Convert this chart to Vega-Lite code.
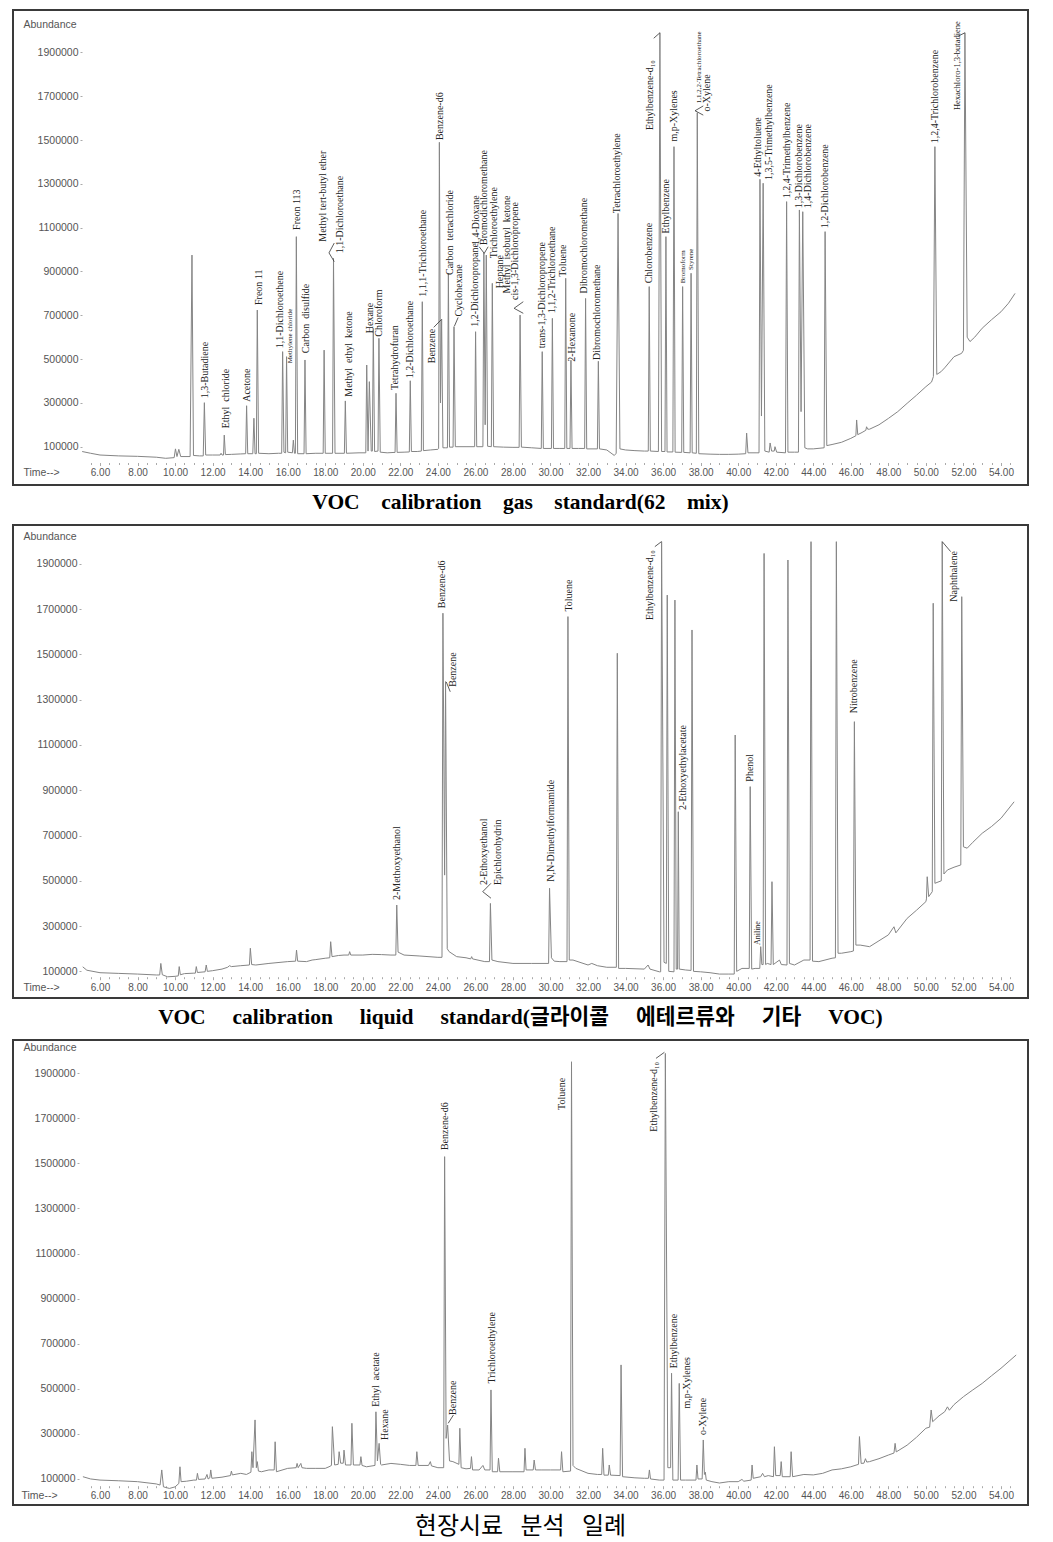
{
"$schema": "https://vega.github.io/schema/vega-lite/v6.json",
"background": "white",
"padding": {"left": 12, "top": 9, "right": 0, "bottom": 0},
"spacing": 9,
"config": {
  "view": {"stroke": "#3a3a3a", "strokeWidth": 2},
  "axis": {"grid": false, "domain": false, "labelFont": "Liberation Sans", "labelFontSize": 10.5, "labelColor": "#555", "tickColor": "#aaa", "titleFont": "Liberation Sans", "titleFontSize": 10.5, "titleColor": "#555", "titleFontWeight": "normal", "labelOverlap": false, "labelFlush": false, "labelBound": false}
},
"datasets": {
"g": [{"t":5.05,"a":78000},{"t":5.5,"a":70000},{"t":6,"a":62000},{"t":7,"a":58000},{"t":8,"a":56000},{"t":9,"a":52000},{"t":9.5,"a":47000},{"t":9.95,"a":50000},{"t":10.02,"a":90000},{"t":10.1,"a":55000},{"t":10.2,"a":88000},{"t":10.3,"a":55000},{"t":10.8,"a":55000},{"t":10.9,"a":975000},{"t":10.98,"a":60000},{"t":11.3,"a":58000},{"t":11.5,"a":58000},{"t":11.56,"a":301000},{"t":11.63,"a":62000},{"t":12.0,"a":62000},{"t":12.4,"a":62000},{"t":12.45,"a":70000},{"t":12.5,"a":62000},{"t":12.58,"a":62000},{"t":12.62,"a":153000},{"t":12.68,"a":64000},{"t":13.0,"a":65000},{"t":13.5,"a":67000},{"t":13.76,"a":68000},{"t":13.81,"a":287000},{"t":13.87,"a":68000},{"t":14.14,"a":68000},{"t":14.2,"a":230000},{"t":14.26,"a":68000},{"t":14.33,"a":68000},{"t":14.38,"a":724000},{"t":14.45,"a":70000},{"t":15.0,"a":68000},{"t":15.5,"a":70000},{"t":15.68,"a":70000},{"t":15.73,"a":534000},{"t":15.8,"a":75000},{"t":15.89,"a":72000},{"t":15.94,"a":511000},{"t":16.0,"a":75000},{"t":16.25,"a":72000},{"t":16.3,"a":130000},{"t":16.36,"a":70000},{"t":16.41,"a":70000},{"t":16.46,"a":1059000},{"t":16.53,"a":68000},{"t":16.87,"a":68000},{"t":16.92,"a":496000},{"t":16.98,"a":68000},{"t":17.5,"a":70000},{"t":17.89,"a":70000},{"t":17.94,"a":541000},{"t":18.0,"a":70000},{"t":18.39,"a":70000},{"t":18.44,"a":960000},{"t":18.52,"a":70000},{"t":19.02,"a":70000},{"t":19.07,"a":309000},{"t":19.13,"a":70000},{"t":19.8,"a":72000},{"t":20.16,"a":72000},{"t":20.21,"a":473000},{"t":20.28,"a":80000},{"t":20.35,"a":397000},{"t":20.45,"a":80000},{"t":20.51,"a":80000},{"t":20.56,"a":640000},{"t":20.63,"a":78000},{"t":20.81,"a":80000},{"t":20.86,"a":595000},{"t":20.93,"a":75000},{"t":21.3,"a":72000},{"t":21.72,"a":74000},{"t":21.77,"a":344000},{"t":21.83,"a":74000},{"t":22.2,"a":75000},{"t":22.48,"a":76000},{"t":22.53,"a":401000},{"t":22.59,"a":78000},{"t":22.9,"a":78000},{"t":23.12,"a":80000},{"t":23.17,"a":762000},{"t":23.23,"a":82000},{"t":23.6,"a":85000},{"t":24.0,"a":88000},{"t":24.04,"a":92000},{"t":24.08,"a":1490000},{"t":24.14,"a":300000},{"t":24.2,"a":683000},{"t":24.27,"a":95000},{"t":24.4,"a":95000},{"t":24.51,"a":95000},{"t":24.56,"a":892000},{"t":24.62,"a":98000},{"t":24.81,"a":98000},{"t":24.86,"a":648000},{"t":24.93,"a":100000},{"t":25.5,"a":100000},{"t":25.96,"a":100000},{"t":26.01,"a":625000},{"t":26.07,"a":100000},{"t":26.4,"a":100000},{"t":26.45,"a":985000},{"t":26.52,"a":200000},{"t":26.58,"a":975000},{"t":26.65,"a":102000},{"t":26.85,"a":100000},{"t":26.9,"a":846000},{"t":26.97,"a":100000},{"t":27.5,"a":98000},{"t":28.0,"a":97000},{"t":28.33,"a":97000},{"t":28.38,"a":701000},{"t":28.45,"a":98000},{"t":29.0,"a":95000},{"t":29.51,"a":92000},{"t":29.56,"a":534000},{"t":29.62,"a":92000},{"t":30.05,"a":92000},{"t":30.1,"a":686000},{"t":30.16,"a":92000},{"t":30.5,"a":92000},{"t":30.76,"a":92000},{"t":30.81,"a":869000},{"t":30.87,"a":92000},{"t":31.04,"a":92000},{"t":31.09,"a":495000},{"t":31.15,"a":92000},{"t":31.5,"a":92000},{"t":31.82,"a":92000},{"t":31.87,"a":777000},{"t":31.93,"a":90000},{"t":32.5,"a":90000},{"t":32.55,"a":490000},{"t":32.61,"a":90000},{"t":33.0,"a":85000},{"t":33.4,"a":60000},{"t":33.5,"a":70000},{"t":33.6,"a":1165000},{"t":33.7,"a":90000},{"t":34.0,"a":85000},{"t":34.5,"a":82000},{"t":35.0,"a":80000},{"t":35.21,"a":80000},{"t":35.26,"a":831000},{"t":35.32,"a":80000},{"t":35.75,"a":78000},{"t":35.83,"a":1990000},{"t":35.92,"a":78000},{"t":36.1,"a":78000},{"t":36.15,"a":1059000},{"t":36.21,"a":76000},{"t":36.52,"a":76000},{"t":36.58,"a":1470000},{"t":36.64,"a":75000},{"t":36.99,"a":74000},{"t":37.04,"a":831000},{"t":37.1,"a":74000},{"t":37.44,"a":72000},{"t":37.49,"a":892000},{"t":37.55,"a":72000},{"t":37.77,"a":70000},{"t":37.82,"a":1625000},{"t":37.9,"a":68000},{"t":38.5,"a":66000},{"t":39.0,"a":65000},{"t":39.5,"a":65000},{"t":40.0,"a":66000},{"t":40.4,"a":68000},{"t":40.45,"a":162000},{"t":40.52,"a":72000},{"t":41.0,"a":72000},{"t":41.11,"a":72000},{"t":41.16,"a":1321000},{"t":41.24,"a":240000},{"t":41.33,"a":1303000},{"t":41.42,"a":80000},{"t":41.65,"a":75000},{"t":41.7,"a":117000},{"t":41.78,"a":80000},{"t":41.92,"a":80000},{"t":41.96,"a":100000},{"t":42.05,"a":75000},{"t":42.52,"a":72000},{"t":42.58,"a":1219000},{"t":42.65,"a":75000},{"t":43.0,"a":75000},{"t":43.21,"a":75000},{"t":43.26,"a":1181000},{"t":43.35,"a":260000},{"t":43.44,"a":1173000},{"t":43.55,"a":95000},{"t":43.7,"a":90000},{"t":44.0,"a":90000},{"t":44.58,"a":95000},{"t":44.63,"a":1082000},{"t":44.72,"a":105000},{"t":45.0,"a":110000},{"t":45.5,"a":120000},{"t":46.0,"a":138000},{"t":46.27,"a":150000},{"t":46.31,"a":222000},{"t":46.37,"a":155000},{"t":46.6,"a":165000},{"t":46.8,"a":175000},{"t":46.84,"a":191000},{"t":46.9,"a":180000},{"t":47.0,"a":180000},{"t":47.5,"a":200000},{"t":48.0,"a":229000},{"t":48.5,"a":260000},{"t":49.0,"a":298000},{"t":49.5,"a":335000},{"t":50.0,"a":374000},{"t":50.3,"a":395000},{"t":50.4,"a":420000},{"t":50.48,"a":1470000},{"t":50.58,"a":430000},{"t":50.8,"a":442000},{"t":51.0,"a":460000},{"t":51.5,"a":511000},{"t":51.9,"a":526000},{"t":52.0,"a":540000},{"t":52.08,"a":1990000},{"t":52.2,"a":600000},{"t":52.35,"a":580000},{"t":52.6,"a":600000},{"t":53.0,"a":641000},{"t":53.5,"a":680000},{"t":54.0,"a":716000},{"t":54.4,"a":755000},{"t":54.75,"a":800000}],
"gl": [{"t":11.58,"a":321000,"n":"1,3-Butadiene"},{"t":12.71,"a":184000,"n":"Ethyl\u2002chloride"},{"t":13.81,"a":305000,"n":"Acetone"},{"t":14.49,"a":747000,"n":"Freon 11"},{"t":15.59,"a":549000,"n":"1,1-Dichloroethene"},{"t":16.12,"a":481000,"n":"Methylene chloride"},{"t":16.51,"a":1090000,"n":"Freon 113"},{"t":17.0,"a":527000,"n":"Carbon\u2002disulfide"},{"t":17.9,"a":1036000,"n":"Methyl tert-butyl ether"},{"t":18.79,"a":983000,"n":"1,1-Dichloroethane"},{"t":19.24,"a":328000,"n":"Methyl\u2002ethyl\u2002ketone"},{"t":20.38,"a":618000,"n":"Hexane"},{"t":20.88,"a":602000,"n":"Chloroform"},{"t":21.72,"a":359000,"n":"Tetrahydrofuran"},{"t":22.52,"a":412000,"n":"1,2-Dichloroethane"},{"t":23.22,"a":785000,"n":"1,1,1-Trichloroethane"},{"t":23.7,"a":481000,"n":"Benzene"},{"t":24.11,"a":1500000,"n":"Benzene-d6"},{"t":24.65,"a":884000,"n":"Carbon\u2002tetrachloride"},{"t":25.14,"a":694000,"n":"Cyclohexane"},{"t":25.98,"a":648000,"n":"1,2-Dichloropropane"},{"t":26.03,"a":1021000,"n":"1,4-Dioxane"},{"t":26.46,"a":1021000,"n":"Bromodichloromethane"},{"t":26.98,"a":960000,"n":"Trichloroethylene"},{"t":27.3,"a":823000,"n":"Heptane"},{"t":27.7,"a":800000,"n":"Methyl\u2002isobutyl\u2002ketone"},{"t":28.13,"a":770000,"n":"cis-1,3-Dichloropropene"},{"t":29.56,"a":549000,"n":"trans-1,3-Dichloropropene"},{"t":30.06,"a":709000,"n":"1,1,2-Trichloroethane"},{"t":30.65,"a":876000,"n":"Toluene"},{"t":31.13,"a":488000,"n":"2-Hexanone"},{"t":31.79,"a":800000,"n":"Dibromochloromethane"},{"t":32.5,"a":496000,"n":"Dibromochloromethane"},{"t":33.56,"a":1166000,"n":"Tetrachloroethylene"},{"t":35.27,"a":846000,"n":"Chlorobenzene"},{"t":35.3,"a":1546000,"n":"Ethylbenzene-d₁₀"},{"t":36.15,"a":1074000,"n":"Ethylbenzene"},{"t":36.58,"a":1493000,"n":"m,p-Xylenes"},{"t":37.04,"a":846000,"n":"Bromoform"},{"t":37.49,"a":907000,"n":"Styrene"},{"t":37.93,"a":1668000,"n":"1,1,2,2-Tetrachloroethane"},{"t":38.32,"a":1630000,"n":"o-Xylene"},{"t":41.07,"a":1333000,"n":"4-Ethyltoluene"},{"t":41.66,"a":1318000,"n":"1,3,5-Trimethylbenzene"},{"t":42.58,"a":1234000,"n":"1,2,4-Trimethylbenzene"},{"t":43.26,"a":1189000,"n":"1,3-Dichlorobenzene"},{"t":43.7,"a":1189000,"n":"1,4-Dichlorobenzene"},{"t":44.63,"a":1097000,"n":"1,2-Dichlorobenzene"},{"t":50.49,"a":1485000,"n":"1,2,4-Trichlorobenzene"},{"t":51.64,"a":1637000,"n":"Hexachloro-1,3-butadiene"}],
"gk": [{"t":18.2,"a":985000,"t2":18.48,"a2":1030000},{"t":18.2,"a":985000,"t2":18.48,"a2":945000},{"t":23.78,"a":645000,"t2":24.18,"a2":680000},{"t":24.88,"a":650000,"t2":25.08,"a2":690000},{"t":26.2,"a":1013000,"t2":26.47,"a2":983000},{"t":26.47,"a":983000,"t2":26.68,"a2":1013000},{"t":28.55,"a":762000,"t2":28.06,"a2":732000},{"t":28.06,"a":732000,"t2":28.55,"a2":709000},{"t":35.5,"a":1965000,"t2":35.83,"a2":1990000},{"t":38.14,"a":1656000,"t2":37.7,"a2":1634000},{"t":37.7,"a":1634000,"t2":38.14,"a2":1614000},{"t":51.73,"a":1975000,"t2":52.08,"a2":1990000}],
"l": [{"t":5.08,"a":120000},{"t":5.3,"a":105000},{"t":6,"a":94000},{"t":7,"a":91000},{"t":8,"a":88000},{"t":9.0,"a":84000},{"t":9.18,"a":84000},{"t":9.24,"a":135000},{"t":9.32,"a":85000},{"t":9.6,"a":76000},{"t":10.0,"a":78000},{"t":10.17,"a":80000},{"t":10.22,"a":121000},{"t":10.28,"a":85000},{"t":10.5,"a":90000},{"t":11.0,"a":92000},{"t":11.08,"a":92000},{"t":11.13,"a":121000},{"t":11.19,"a":95000},{"t":11.6,"a":98000},{"t":11.66,"a":128000},{"t":11.72,"a":100000},{"t":12.0,"a":103000},{"t":12.5,"a":110000},{"t":12.8,"a":118000},{"t":12.9,"a":125000},{"t":13.0,"a":121000},{"t":13.5,"a":125000},{"t":13.96,"a":128000},{"t":14.01,"a":202000},{"t":14.08,"a":130000},{"t":14.3,"a":128000},{"t":15.0,"a":135000},{"t":16.0,"a":143000},{"t":16.42,"a":145000},{"t":16.47,"a":194000},{"t":16.53,"a":145000},{"t":17.0,"a":143000},{"t":17.3,"a":150000},{"t":17.5,"a":152000},{"t":18.0,"a":158000},{"t":18.24,"a":160000},{"t":18.29,"a":231000},{"t":18.36,"a":165000},{"t":18.7,"a":170000},{"t":19.0,"a":172000},{"t":19.25,"a":172000},{"t":19.3,"a":187000},{"t":19.36,"a":172000},{"t":20.0,"a":172000},{"t":20.5,"a":175000},{"t":21.0,"a":174000},{"t":21.5,"a":172000},{"t":21.76,"a":172000},{"t":21.81,"a":393000},{"t":21.88,"a":185000},{"t":22.2,"a":172000},{"t":23.0,"a":168000},{"t":24.0,"a":162000},{"t":24.22,"a":162000},{"t":24.27,"a":1682000},{"t":24.36,"a":525000},{"t":24.41,"a":1380000},{"t":24.5,"a":200000},{"t":24.6,"a":187000},{"t":25.0,"a":165000},{"t":25.5,"a":160000},{"t":25.75,"a":155000},{"t":25.8,"a":165000},{"t":25.85,"a":155000},{"t":26.5,"a":143000},{"t":26.75,"a":143000},{"t":26.8,"a":400000},{"t":26.88,"a":150000},{"t":27.2,"a":143000},{"t":28.0,"a":135000},{"t":29.0,"a":135000},{"t":29.9,"a":135000},{"t":29.95,"a":467000},{"t":30.05,"a":160000},{"t":30.2,"a":145000},{"t":30.5,"a":143000},{"t":30.88,"a":143000},{"t":30.93,"a":1667000},{"t":31.0,"a":150000},{"t":31.2,"a":150000},{"t":32.0,"a":128000},{"t":32.2,"a":135000},{"t":32.5,"a":125000},{"t":33.0,"a":118000},{"t":33.51,"a":118000},{"t":33.56,"a":1505000},{"t":33.63,"a":113000},{"t":34.0,"a":113000},{"t":35.0,"a":110000},{"t":35.2,"a":128000},{"t":35.3,"a":110000},{"t":35.8,"a":98000},{"t":35.87,"a":98000},{"t":35.92,"a":1998000},{"t":36.05,"a":140000},{"t":36.17,"a":135000},{"t":36.22,"a":1762000},{"t":36.3,"a":100000},{"t":36.58,"a":98000},{"t":36.63,"a":1740000},{"t":36.7,"a":110000},{"t":36.77,"a":110000},{"t":36.81,"a":805000},{"t":36.86,"a":110000},{"t":37.2,"a":106000},{"t":37.49,"a":104000},{"t":37.54,"a":1608000},{"t":37.62,"a":100000},{"t":38.0,"a":98000},{"t":38.5,"a":94000},{"t":39.0,"a":88000},{"t":39.5,"a":88000},{"t":39.79,"a":88000},{"t":39.84,"a":1144000},{"t":39.92,"a":100000},{"t":40.2,"a":113000},{"t":40.59,"a":113000},{"t":40.64,"a":916000},{"t":40.72,"a":110000},{"t":40.9,"a":113000},{"t":41.15,"a":113000},{"t":41.2,"a":209000},{"t":41.26,"a":130000},{"t":41.33,"a":130000},{"t":41.38,"a":1946000},{"t":41.46,"a":130000},{"t":41.55,"a":135000},{"t":41.75,"a":130000},{"t":41.8,"a":496000},{"t":41.87,"a":130000},{"t":42.2,"a":150000},{"t":42.3,"a":130000},{"t":42.6,"a":128000},{"t":42.65,"a":1917000},{"t":42.73,"a":135000},{"t":43.0,"a":128000},{"t":43.5,"a":150000},{"t":43.83,"a":150000},{"t":43.88,"a":1998000},{"t":43.96,"a":145000},{"t":44.3,"a":143000},{"t":45.0,"a":158000},{"t":45.18,"a":160000},{"t":45.23,"a":1998000},{"t":45.32,"a":180000},{"t":45.5,"a":180000},{"t":46.0,"a":187000},{"t":46.14,"a":190000},{"t":46.19,"a":1203000},{"t":46.27,"a":216000},{"t":46.5,"a":216000},{"t":47.0,"a":209000},{"t":47.5,"a":235000},{"t":48.0,"a":261000},{"t":48.3,"a":297000},{"t":48.4,"a":270000},{"t":49.0,"a":334000},{"t":49.5,"a":370000},{"t":50.0,"a":408000},{"t":50.03,"a":420000},{"t":50.07,"a":518000},{"t":50.15,"a":430000},{"t":50.34,"a":452000},{"t":50.39,"a":1726000},{"t":50.48,"a":489000},{"t":50.82,"a":500000},{"t":50.87,"a":1998000},{"t":50.96,"a":530000},{"t":51.15,"a":548000},{"t":51.5,"a":560000},{"t":51.86,"a":570000},{"t":51.91,"a":1755000},{"t":52.0,"a":650000},{"t":52.2,"a":644000},{"t":52.5,"a":670000},{"t":53.0,"a":710000},{"t":53.5,"a":740000},{"t":54.0,"a":776000},{"t":54.7,"a":849000}],
"ll": [{"t":21.81,"a":415000,"n":"2-Methoxyethanol"},{"t":24.2,"a":1704000,"n":"Benzene-d6"},{"t":24.79,"a":1357000,"n":"Benzene"},{"t":26.44,"a":481000,"n":"2-Ethoxyethanol"},{"t":27.23,"a":481000,"n":"Epichlorohydrin"},{"t":30.04,"a":496000,"n":"N,N-Dimethylformamide"},{"t":30.98,"a":1689000,"n":"Toluene"},{"t":35.3,"a":1652000,"n":"Ethylbenzene-d₁₀"},{"t":37.07,"a":813000,"n":"2-Ethoxyethylacetate"},{"t":40.64,"a":938000,"n":"Phenol"},{"t":41.08,"a":216000,"n":"Aniline"},{"t":46.15,"a":1240000,"n":"Nitrobenzene"},{"t":51.5,"a":1733000,"n":"Naphthalene"}],
"lk": [{"t":24.45,"a":1378000,"t2":24.66,"a2":1335000},{"t":26.83,"a":489000,"t2":26.39,"a2":452000},{"t":26.39,"a":452000,"t2":26.83,"a2":423000},{"t":35.56,"a":1976000,"t2":35.91,"a2":1998000},{"t":50.87,"a":1998000,"t2":51.32,"a2":1954000}],
"s": [{"t":5.09,"a":110000},{"t":5.5,"a":100000},{"t":6,"a":95000},{"t":7,"a":92000},{"t":8,"a":88000},{"t":9.0,"a":78000},{"t":9.2,"a":73000},{"t":9.29,"a":140000},{"t":9.38,"a":65000},{"t":9.7,"a":58000},{"t":10.0,"a":65000},{"t":10.2,"a":80000},{"t":10.26,"a":154000},{"t":10.32,"a":88000},{"t":10.6,"a":90000},{"t":11.0,"a":95000},{"t":11.14,"a":95000},{"t":11.19,"a":125000},{"t":11.25,"a":98000},{"t":11.6,"a":100000},{"t":11.7,"a":120000},{"t":11.76,"a":100000},{"t":11.85,"a":105000},{"t":11.9,"a":140000},{"t":11.96,"a":103000},{"t":12.5,"a":108000},{"t":12.95,"a":115000},{"t":13.0,"a":135000},{"t":13.05,"a":118000},{"t":13.5,"a":125000},{"t":13.8,"a":120000},{"t":14.04,"a":130000},{"t":14.09,"a":221000},{"t":14.15,"a":150000},{"t":14.26,"a":362000},{"t":14.33,"a":150000},{"t":14.38,"a":177000},{"t":14.44,"a":135000},{"t":14.6,"a":132000},{"t":15.0,"a":140000},{"t":15.28,"a":140000},{"t":15.33,"a":265000},{"t":15.4,"a":132000},{"t":16.0,"a":147000},{"t":16.45,"a":150000},{"t":16.5,"a":169000},{"t":16.56,"a":150000},{"t":16.7,"a":169000},{"t":16.76,"a":150000},{"t":17.0,"a":147000},{"t":17.5,"a":147000},{"t":18.0,"a":147000},{"t":18.2,"a":154000},{"t":18.33,"a":160000},{"t":18.38,"a":332000},{"t":18.5,"a":162000},{"t":18.69,"a":165000},{"t":18.74,"a":221000},{"t":18.82,"a":170000},{"t":18.96,"a":170000},{"t":19.0,"a":228000},{"t":19.08,"a":162000},{"t":19.37,"a":162000},{"t":19.42,"a":347000},{"t":19.5,"a":162000},{"t":19.85,"a":162000},{"t":19.9,"a":199000},{"t":19.96,"a":160000},{"t":20.2,"a":154000},{"t":20.65,"a":160000},{"t":20.7,"a":398000},{"t":20.78,"a":180000},{"t":20.87,"a":258000},{"t":20.95,"a":165000},{"t":21.0,"a":162000},{"t":21.5,"a":169000},{"t":22.0,"a":165000},{"t":22.5,"a":160000},{"t":22.83,"a":160000},{"t":22.88,"a":221000},{"t":22.95,"a":160000},{"t":23.5,"a":160000},{"t":23.6,"a":177000},{"t":23.66,"a":158000},{"t":24.0,"a":150000},{"t":24.31,"a":150000},{"t":24.36,"a":1530000},{"t":24.44,"a":280000},{"t":24.52,"a":339000},{"t":24.62,"a":180000},{"t":24.8,"a":177000},{"t":25.12,"a":165000},{"t":25.17,"a":325000},{"t":25.24,"a":150000},{"t":25.5,"a":145000},{"t":25.74,"a":147000},{"t":25.79,"a":199000},{"t":25.85,"a":140000},{"t":26.2,"a":140000},{"t":26.4,"a":160000},{"t":26.5,"a":140000},{"t":26.78,"a":140000},{"t":26.83,"a":495000},{"t":26.9,"a":132000},{"t":27.18,"a":132000},{"t":27.23,"a":192000},{"t":27.3,"a":132000},{"t":28.0,"a":132000},{"t":28.59,"a":132000},{"t":28.64,"a":236000},{"t":28.7,"a":140000},{"t":29.08,"a":140000},{"t":29.13,"a":184000},{"t":29.2,"a":140000},{"t":29.5,"a":140000},{"t":30.0,"a":140000},{"t":30.54,"a":140000},{"t":30.59,"a":221000},{"t":30.66,"a":132000},{"t":31.07,"a":135000},{"t":31.12,"a":1951000},{"t":31.2,"a":160000},{"t":31.35,"a":147000},{"t":32.0,"a":125000},{"t":32.5,"a":120000},{"t":32.73,"a":120000},{"t":32.78,"a":236000},{"t":32.85,"a":117000},{"t":33.08,"a":117000},{"t":33.13,"a":162000},{"t":33.2,"a":117000},{"t":33.71,"a":115000},{"t":33.76,"a":606000},{"t":33.84,"a":110000},{"t":34.5,"a":105000},{"t":35.0,"a":103000},{"t":35.22,"a":103000},{"t":35.27,"a":140000},{"t":35.33,"a":100000},{"t":35.8,"a":95000},{"t":36.05,"a":95000},{"t":36.12,"a":1988000},{"t":36.25,"a":150000},{"t":36.4,"a":150000},{"t":36.45,"a":569000},{"t":36.52,"a":95000},{"t":36.8,"a":95000},{"t":36.86,"a":524000},{"t":36.93,"a":95000},{"t":37.2,"a":95000},{"t":37.75,"a":95000},{"t":37.8,"a":162000},{"t":37.86,"a":100000},{"t":38.08,"a":100000},{"t":38.14,"a":273000},{"t":38.2,"a":120000},{"t":38.25,"a":130000},{"t":38.3,"a":95000},{"t":38.6,"a":88000},{"t":39.0,"a":82000},{"t":39.5,"a":88000},{"t":40.0,"a":88000},{"t":40.2,"a":98000},{"t":40.3,"a":90000},{"t":40.69,"a":95000},{"t":40.74,"a":162000},{"t":40.8,"a":103000},{"t":41.2,"a":110000},{"t":41.3,"a":125000},{"t":41.4,"a":110000},{"t":41.6,"a":115000},{"t":41.88,"a":110000},{"t":41.93,"a":243000},{"t":42.0,"a":115000},{"t":42.24,"a":115000},{"t":42.29,"a":177000},{"t":42.35,"a":110000},{"t":42.77,"a":110000},{"t":42.82,"a":221000},{"t":42.9,"a":110000},{"t":43.5,"a":120000},{"t":44.0,"a":118000},{"t":44.5,"a":125000},{"t":45.0,"a":140000},{"t":45.5,"a":145000},{"t":46.0,"a":154000},{"t":46.41,"a":165000},{"t":46.46,"a":288000},{"t":46.55,"a":169000},{"t":46.7,"a":170000},{"t":46.78,"a":190000},{"t":46.85,"a":175000},{"t":47.0,"a":177000},{"t":47.5,"a":190000},{"t":48.0,"a":206000},{"t":48.3,"a":215000},{"t":48.36,"a":258000},{"t":48.42,"a":220000},{"t":49.0,"a":250000},{"t":49.5,"a":285000},{"t":50.0,"a":325000},{"t":50.2,"a":330000},{"t":50.28,"a":406000},{"t":50.36,"a":354000},{"t":50.7,"a":380000},{"t":51.0,"a":398000},{"t":51.15,"a":420000},{"t":51.25,"a":405000},{"t":51.5,"a":430000},{"t":52.0,"a":465000},{"t":52.5,"a":495000},{"t":53.0,"a":524000},{"t":53.5,"a":558000},{"t":54.0,"a":591000},{"t":54.81,"a":650000}],
"sl": [{"t":20.73,"a":420000,"n":"Ethyl\u2002acetate"},{"t":21.18,"a":273000,"n":"Hexane"},{"t":24.39,"a":1559000,"n":"Benzene-d6"},{"t":24.83,"a":384000,"n":"Benzene"},{"t":26.88,"a":524000,"n":"Trichloroethylene"},{"t":30.64,"a":1737000,"n":"Toluene"},{"t":35.53,"a":1641000,"n":"Ethylbenzene-d₁₀"},{"t":36.56,"a":591000,"n":"Ethylbenzene"},{"t":37.27,"a":413000,"n":"m,p-Xylenes"},{"t":38.14,"a":295000,"n":"o-Xylene"}],
"sk": [{"t":24.55,"a":347000,"t2":24.83,"a2":384000},{"t":35.62,"a":1966000,"t2":36.07,"a2":1993000}]
},
"vconcat": [
{
 "width": 1015, "height": 475,
 "resolve": {"axis": {"x": "independent"}},
 "title": {"text": "VOC\u2002\u2002calibration\u2002\u2002gas\u2002\u2002standard(62\u2002\u2002mix)", "orient": "bottom", "anchor": "middle", "offset": 7, "font": "Liberation Serif", "fontSize": 21.5, "fontWeight": "bold", "color": "#000"},
 "layer": [
  {"data": {"name": "g"}, "mark": {"type": "line", "color": "#858585", "strokeWidth": 1},
   "encoding": {
    "x": {"field": "t", "type": "quantitative", "scale": {"domain": [1.365, 55.44], "nice": false, "zero": false},
      "axis": {"orient": "bottom", "offset": -22.5, "values": [6,8,10,12,14,16,18,20,22,24,26,28,30,32,34,36,38,40,42,44,46,48,50,52,54], "format": ".2f", "tickSize": 3, "labelPadding": 2, "labelFontSize": 10, "title": "Time-->", "titleX": 10, "titleY": 9.5, "titleAlign": "left", "titleBaseline": "middle", "titleAnchor": null}},
    "y": {"field": "a", "type": "quantitative", "scale": {"domain": [-74900, 2094000], "nice": false, "zero": false},
      "axis": {"orient": "left", "offset": -69, "values": [100000,200000,300000,400000,500000,600000,700000,800000,900000,1000000,1100000,1200000,1300000,1400000,1500000,1600000,1700000,1800000,1900000], "format": "d", "tickSize": 2, "labelPadding": 2, "title": "Abundance", "titleAngle": 0, "titleX": -59, "titleY": 14, "titleAlign": "left", "titleBaseline": "middle", "titleAnchor": null}}
   }},
  {"mark": {"type": "rule", "color": "#c8c8c8", "strokeWidth": 1}, "encoding": {"x": {"datum": 5.04, "type": "quantitative", "axis": null}, "y": {"datum": 27900, "type": "quantitative"}, "y2": {"datum": 1989000}}},
  {"mark": {"type": "rule", "color": "#c8c8c8", "strokeWidth": 1}, "encoding": {"x": {"datum": 5.04, "type": "quantitative", "axis": {"orient": "bottom", "offset": -22.5, "values": [5.5,6.5,7,7.5,8.5,9,9.5,10.5,11,11.5,12.5,13,13.5,14.5,15,15.5,16.5,17,17.5,18.5,19,19.5,20.5,21,21.5,22.5,23,23.5,24.5,25,25.5,26.5,27,27.5,28.5,29,29.5,30.5,31,31.5,32.5,33,33.5,34.5,35,35.5,36.5,37,37.5,38.5,39,39.5,40.5,41,41.5,42.5,43,43.5,44.5,45,45.5,46.5,47,47.5,48.5,49,49.5,50.5,51,51.5,52.5,53,53.5,54.5], "labels": false, "tickSize": 2, "title": null}}, "x2": {"datum": 54.9}, "y": {"datum": 27900, "type": "quantitative"}}},
  {"data": {"name": "gk"}, "mark": {"type": "rule", "color": "#333", "strokeWidth": 0.8}, "encoding": {"x": {"field": "t", "type": "quantitative", "axis": null}, "x2": {"field": "t2"}, "y": {"field": "a", "type": "quantitative"}, "y2": {"field": "a2"}}},
  {"data": {"name": "gl"}, "transform": [{"filter": "indexof(['Methylene chloride','Bromoform','Styrene','1,1,2,2-Tetrachloroethane','Hexachloro-1,3-butadiene'], datum.n) < 0"}], "mark": {"type": "text", "angle": 270, "align": "left", "baseline": "middle", "font": "Liberation Serif", "fontSize": 10, "color": "#222"}, "encoding": {"x": {"field": "t", "type": "quantitative", "axis": null}, "y": {"field": "a", "type": "quantitative"}, "text": {"field": "n"}}},
  {"data": {"name": "gl"}, "transform": [{"filter": "datum.n === 'Hexachloro-1,3-butadiene'"}], "mark": {"type": "text", "angle": 270, "align": "left", "baseline": "middle", "font": "Liberation Serif", "fontSize": 8.5, "color": "#222"}, "encoding": {"x": {"field": "t", "type": "quantitative", "axis": null}, "y": {"field": "a", "type": "quantitative"}, "text": {"field": "n"}}},
  {"data": {"name": "gl"}, "transform": [{"filter": "indexof(['Methylene chloride','Bromoform','Styrene','1,1,2,2-Tetrachloroethane'], datum.n) >= 0"}], "mark": {"type": "text", "angle": 270, "align": "left", "baseline": "middle", "font": "Liberation Serif", "fontSize": 7, "color": "#222"}, "encoding": {"x": {"field": "t", "type": "quantitative", "axis": null}, "y": {"field": "a", "type": "quantitative"}, "text": {"field": "n"}}}
 ]
},
{
 "width": 1015, "height": 473,
 "resolve": {"axis": {"x": "independent"}},
 "title": {"text": "VOC\u2002\u2002 calibration\u2002\u2002 liquid\u2002\u2002 standard(글라이콜\u2002\u2002 에테르류와\u2002\u2002 기타\u2002\u2002 VOC)", "orient": "bottom", "anchor": "middle", "offset": 9, "font": "Liberation Serif, Noto Sans CJK KR", "fontSize": 21.5, "fontWeight": "bold", "color": "#000"},
 "layer": [
  {"data": {"name": "l"}, "mark": {"type": "line", "color": "#858585", "strokeWidth": 1},
   "encoding": {
    "x": {"field": "t", "type": "quantitative", "scale": {"domain": [1.365, 55.44], "nice": false, "zero": false},
      "axis": {"orient": "bottom", "offset": -21.3, "values": [6,8,10,12,14,16,18,20,22,24,26,28,30,32,34,36,38,40,42,44,46,48,50,52,54], "format": ".2f", "tickSize": 3, "labelPadding": 3, "labelFontSize": 10, "title": "Time-->", "titleX": 10, "titleY": 11, "titleAlign": "left", "titleBaseline": "middle", "titleAnchor": null}},
    "y": {"field": "a", "type": "quantitative", "scale": {"domain": [-17700, 2071600], "nice": false, "zero": false},
      "axis": {"orient": "left", "offset": -68, "values": [100000,200000,300000,400000,500000,600000,700000,800000,900000,1000000,1100000,1200000,1300000,1400000,1500000,1600000,1700000,1800000,1900000], "format": "d", "tickSize": 2, "labelPadding": 2, "title": "Abundance", "titleAngle": 0, "titleX": -58, "titleY": 11, "titleAlign": "left", "titleBaseline": "middle", "titleAnchor": null}}
   }},
  {"mark": {"type": "rule", "color": "#c8c8c8", "strokeWidth": 1}, "encoding": {"x": {"datum": 5.04, "type": "quantitative", "axis": null}, "y": {"datum": 76400, "type": "quantitative"}, "y2": {"datum": 1992000}}},
  {"mark": {"type": "rule", "color": "#c8c8c8", "strokeWidth": 1}, "encoding": {"x": {"datum": 5.04, "type": "quantitative", "axis": {"orient": "bottom", "offset": -21.3, "values": [5.5,6.5,7,7.5,8.5,9,9.5,10.5,11,11.5,12.5,13,13.5,14.5,15,15.5,16.5,17,17.5,18.5,19,19.5,20.5,21,21.5,22.5,23,23.5,24.5,25,25.5,26.5,27,27.5,28.5,29,29.5,30.5,31,31.5,32.5,33,33.5,34.5,35,35.5,36.5,37,37.5,38.5,39,39.5,40.5,41,41.5,42.5,43,43.5,44.5,45,45.5,46.5,47,47.5,48.5,49,49.5,50.5,51,51.5,52.5,53,53.5,54.5], "labels": false, "tickSize": 2, "title": null}}, "x2": {"datum": 54.9}, "y": {"datum": 76400, "type": "quantitative"}}},
  {"data": {"name": "lk"}, "mark": {"type": "rule", "color": "#333", "strokeWidth": 0.8}, "encoding": {"x": {"field": "t", "type": "quantitative", "axis": null}, "x2": {"field": "t2"}, "y": {"field": "a", "type": "quantitative"}, "y2": {"field": "a2"}}},
  {"data": {"name": "ll"}, "transform": [{"filter": "datum.n !== 'Aniline'"}], "mark": {"type": "text", "angle": 270, "align": "left", "baseline": "middle", "font": "Liberation Serif", "fontSize": 10, "color": "#222"}, "encoding": {"x": {"field": "t", "type": "quantitative", "axis": null}, "y": {"field": "a", "type": "quantitative"}, "text": {"field": "n"}}},
  {"data": {"name": "ll"}, "transform": [{"filter": "datum.n === 'Aniline'"}], "mark": {"type": "text", "angle": 270, "align": "left", "baseline": "middle", "font": "Liberation Serif", "fontSize": 8, "color": "#222"}, "encoding": {"x": {"field": "t", "type": "quantitative", "axis": null}, "y": {"field": "a", "type": "quantitative"}, "text": {"field": "n"}}}
 ]
},
{
 "width": 1015, "height": 465,
 "resolve": {"axis": {"x": "independent"}},
 "title": {"text": "현장시료\u2002 분석\u2002 일례", "orient": "bottom", "anchor": "middle", "offset": 10, "font": "Noto Sans CJK KR", "fontSize": 24, "fontWeight": "normal", "color": "#000"},
 "layer": [
  {"data": {"name": "s"}, "mark": {"type": "line", "color": "#858585", "strokeWidth": 1},
   "encoding": {
    "x": {"field": "t", "type": "quantitative", "scale": {"domain": [1.365, 55.44], "nice": false, "zero": false},
      "axis": {"orient": "bottom", "offset": -19.3, "values": [6,8,10,12,14,16,18,20,22,24,26,28,30,32,34,36,38,40,42,44,46,48,50,52,54], "format": ".2f", "tickSize": 3, "labelPadding": 2, "labelFontSize": 10, "title": "Time-->", "titleX": 8, "titleY": 10, "titleAlign": "left", "titleBaseline": "middle", "titleAnchor": null}},
    "y": {"field": "a", "type": "quantitative", "scale": {"domain": [-15500, 2047500], "nice": false, "zero": false},
      "axis": {"orient": "left", "offset": -66, "values": [100000,200000,300000,400000,500000,600000,700000,800000,900000,1000000,1100000,1200000,1300000,1400000,1500000,1600000,1700000,1800000,1900000], "format": "d", "tickSize": 2, "labelPadding": 2, "title": "Abundance", "titleAngle": 0, "titleX": -56, "titleY": 7, "titleAlign": "left", "titleBaseline": "middle", "titleAnchor": null}}
   }},
  {"mark": {"type": "rule", "color": "#c8c8c8", "strokeWidth": 1}, "encoding": {"x": {"datum": 5.04, "type": "quantitative", "axis": null}, "y": {"datum": 70100, "type": "quantitative"}, "y2": {"datum": 1995000}}},
  {"mark": {"type": "rule", "color": "#c8c8c8", "strokeWidth": 1}, "encoding": {"x": {"datum": 5.04, "type": "quantitative", "axis": {"orient": "bottom", "offset": -19.3, "values": [5.5,6.5,7,7.5,8.5,9,9.5,10.5,11,11.5,12.5,13,13.5,14.5,15,15.5,16.5,17,17.5,18.5,19,19.5,20.5,21,21.5,22.5,23,23.5,24.5,25,25.5,26.5,27,27.5,28.5,29,29.5,30.5,31,31.5,32.5,33,33.5,34.5,35,35.5,36.5,37,37.5,38.5,39,39.5,40.5,41,41.5,42.5,43,43.5,44.5,45,45.5,46.5,47,47.5,48.5,49,49.5,50.5,51,51.5,52.5,53,53.5,54.5], "labels": false, "tickSize": 2, "title": null}}, "x2": {"datum": 54.9}, "y": {"datum": 70100, "type": "quantitative"}}},
  {"data": {"name": "sk"}, "mark": {"type": "rule", "color": "#333", "strokeWidth": 0.8}, "encoding": {"x": {"field": "t", "type": "quantitative", "axis": null}, "x2": {"field": "t2"}, "y": {"field": "a", "type": "quantitative"}, "y2": {"field": "a2"}}},
  {"data": {"name": "sl"}, "mark": {"type": "text", "angle": 270, "align": "left", "baseline": "middle", "font": "Liberation Serif", "fontSize": 10, "color": "#222"}, "encoding": {"x": {"field": "t", "type": "quantitative", "axis": null}, "y": {"field": "a", "type": "quantitative"}, "text": {"field": "n"}}}
 ]
}
]
}
